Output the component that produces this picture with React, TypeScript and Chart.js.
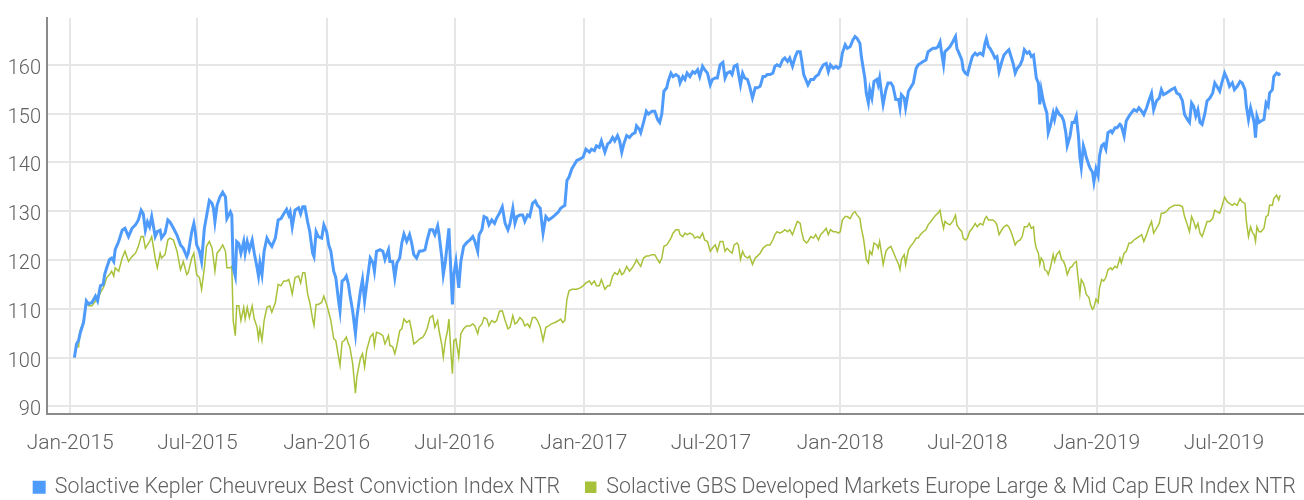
import React, { useEffect, useRef } from 'react';
import { Chart, registerables } from 'chart.js';

Chart.register(...registerables);

// Series names
const seriesNames = [
  'Solactive Kepler Cheuvreux Best Conviction Index NTR',
  'Solactive GBS Developed Markets Europe Large & Mid Cap EUR Index NTR',
];

// X axis: days since 2015-01-01; tick positions at month starts
const tickDays = [0, 181, 365, 547, 731, 912, 1096, 1277, 1461, 1642];
const tickLabels = ['Jan-2015', 'Jul-2015', 'Jan-2016', 'Jul-2016', 'Jan-2017', 'Jul-2017', 'Jan-2018', 'Jul-2018', 'Jan-2019', 'Jul-2019'];

// Observation dates (days since 2015-01-01), in four periods
const days2015 = [6, 9, 12, 14, 19, 23, 26, 31, 36, 39, 43, 47, 49, 52, 56, 59, 62, 64, 69, 74, 78, 83, 88, 93, 97, 101, 104, 107, 110, 113, 116, 121, 124, 128, 130, 135, 139, 142, 147, 152, 157, 161, 166, 168, 173, 176, 178, 180, 184, 187, 191, 194, 198, 202, 204, 206, 209, 213, 217, 221, 223, 228, 230, 232, 235, 237, 240, 243, 247, 249, 252, 255, 259, 262, 266, 268, 270, 273, 276, 280, 284, 287, 292, 296, 300, 304, 308, 311, 313, 316, 320, 325, 328, 331, 334, 338, 341, 345, 347, 350, 353, 358, 361, 365, 368, 371, 375, 378, 382, 384, 387, 390, 393, 396, 398, 402, 406, 408, 413, 416, 419, 422, 427];
const days2016 = [431, 433, 436, 441, 445, 448, 453, 455, 459, 462, 465, 469, 472, 475, 479, 483, 486, 489, 493, 497, 502, 505, 508, 512, 516, 519, 523, 525, 529, 531, 534, 537, 539, 542, 544, 546, 549, 553, 556, 560, 564, 569, 573, 576, 580, 582, 586, 589, 593, 596, 600, 604, 607, 611, 615, 619, 623, 626, 630, 633, 636, 640, 644, 647, 651, 654, 658, 662, 665, 669, 671, 673, 677, 681, 685, 690, 695, 698, 701, 704, 707, 710, 714, 717, 721, 726, 730, 734, 739, 742, 746, 749, 753, 756, 761, 765, 768, 772, 775, 779, 782, 785, 788, 792, 796, 800, 804, 806, 810, 812, 816, 820, 823, 828, 832, 836, 839, 842, 845, 849, 851, 855, 858, 862, 866];
const days2017 = [868, 872, 875, 878, 882, 886, 889, 893, 896, 900, 903, 907, 911, 914, 918, 921, 925, 929, 932, 935, 939, 942, 945, 949, 951, 954, 957, 960, 964, 967, 971, 975, 978, 982, 986, 989, 992, 996, 1000, 1003, 1006, 1010, 1014, 1017, 1021, 1024, 1028, 1032, 1035, 1039, 1041, 1044, 1048, 1050, 1054, 1058, 1061, 1065, 1068, 1072, 1076, 1079, 1082, 1086, 1090, 1093, 1096, 1099, 1103, 1106, 1110, 1114, 1117, 1120, 1124, 1126, 1129, 1131, 1133, 1136, 1138, 1141, 1144, 1148, 1150, 1152, 1155, 1157, 1161, 1164, 1168, 1171, 1175, 1179, 1181, 1183, 1187, 1189, 1193, 1196, 1200, 1204, 1207, 1210, 1214, 1218, 1221, 1225, 1228, 1232, 1235, 1238, 1240, 1243, 1245, 1248, 1252, 1256, 1260, 1262, 1265, 1269, 1271, 1274, 1277, 1280, 1284, 1288, 1291, 1295, 1299, 1302, 1304, 1307];
const days2018 = [1309, 1313, 1316, 1319, 1322, 1326, 1329, 1333, 1336, 1339, 1342, 1345, 1348, 1352, 1355, 1358, 1362, 1365, 1368, 1371, 1373, 1375, 1378, 1380, 1382, 1385, 1387, 1390, 1392, 1395, 1399, 1401, 1404, 1408, 1411, 1414, 1417, 1419, 1423, 1426, 1429, 1432, 1435, 1437, 1439, 1442, 1444, 1446, 1450, 1452, 1455, 1457, 1460, 1463, 1465, 1468, 1471, 1474, 1477, 1481, 1483, 1487, 1490, 1494, 1496, 1500, 1503, 1507, 1510, 1514, 1518, 1521, 1525, 1528, 1532, 1535, 1539, 1542, 1546, 1550, 1553, 1556, 1560, 1564, 1567, 1572, 1575, 1579, 1583, 1586, 1590, 1593, 1596, 1599, 1602, 1605, 1608, 1611, 1615, 1618, 1622, 1626, 1629, 1632, 1636, 1639, 1643, 1647, 1650, 1654, 1657, 1661, 1665, 1668, 1672, 1674, 1677, 1680, 1683, 1685, 1687, 1689, 1692, 1695, 1699, 1702, 1705, 1707, 1711, 1713, 1717, 1720, 1722];

// Solactive Kepler Cheuvreux Best Conviction Index NTR
const kepler2015 = [100, 102.8, 103.5, 104.9, 107.2, 111.6, 111, 111.3, 112.6, 111.6, 114.7, 115, 117, 118.4, 120.1, 120.4, 119.7, 122.1, 123.8, 126.1, 126.5, 124.8, 126.5, 127.2, 128.2, 130.2, 129.5, 126.1, 127.8, 126.8, 128.9, 124.8, 125.8, 126.1, 124.5, 125.5, 128.2, 127.8, 126.5, 125.1, 123.1, 122.4, 120.7, 121.4, 125.8, 127.5, 125.8, 123.1, 121.8, 119.7, 126.5, 128.9, 132.2, 131.6, 130.5, 127.8, 131.2, 132.9, 133.9, 132.9, 128.5, 129.9, 129.2, 118.4, 116.7, 123.8, 123.4, 121.4, 123.8, 121.4, 123.8, 122.1, 124.1, 121.4, 118.4, 116.7, 119.4, 117, 121.8, 124.5, 123.4, 122.8, 124.5, 128.2, 128.5, 129.5, 130.4, 129.2, 129.9, 126.8, 130.2, 130.7, 129.5, 130.9, 130.9, 127.8, 125.8, 121.4, 120.7, 125.8, 124.8, 124.5, 127.2, 125.8, 123.1, 121.8, 117.7, 116.4, 111.6, 109.6, 115.7, 116, 116.7, 115, 113, 109.6, 104.9, 108.2, 113.6, 116, 111.6, 115, 120.4];
const kepler2016 = [119.4, 117.7, 121.8, 122.1, 121.8, 120.1, 122.1, 119.7, 119.7, 116.4, 119.4, 120.4, 123.5, 125.3, 123.8, 125.2, 123.5, 121.1, 120.4, 121.8, 121.9, 122.1, 124.1, 126.2, 126.2, 125.2, 127, 125.2, 120.4, 117, 119.7, 123.8, 126.5, 117, 110.9, 117, 119.7, 114.3, 119.7, 122.8, 123.5, 124.1, 124.8, 123.8, 121.8, 125.2, 126.2, 128.9, 128.6, 127.2, 128.2, 127.5, 128.6, 129.6, 130.9, 127.5, 126.2, 127.5, 130.6, 127.5, 128.9, 129.2, 129.2, 127.9, 129.2, 128.9, 131.6, 132.1, 131.2, 130.6, 127.9, 125.5, 128.9, 128.2, 128.6, 129.2, 129.9, 130.6, 130.9, 131.2, 136.3, 137, 138.7, 139.4, 140.4, 140.7, 141.1, 142.7, 142.1, 142.7, 142.4, 143.4, 143.1, 144.4, 142.1, 143.8, 144.1, 145.1, 144.4, 145.5, 144.4, 142.1, 143.8, 145.5, 145.1, 145.8, 146.1, 147.5, 146.8, 146.1, 148.2, 150.5, 149.9, 150.5, 150.5, 148.8, 148.2, 149.9, 154.6, 155.3, 156.6, 158.3, 157.6, 158, 157.6];
const kepler2017 = [156.3, 157.6, 157, 158.3, 157.6, 158.6, 158.3, 159, 157.6, 159.7, 159, 158.3, 155.9, 157, 157.3, 157.3, 160, 160.5, 157.3, 158.3, 158.6, 158, 159.7, 160, 158.3, 155.9, 158.3, 157.3, 157, 155.6, 153.2, 155.3, 155.3, 155.6, 157.6, 157.6, 158, 158, 158.3, 159.7, 160, 159.7, 161, 161.4, 160.7, 161.4, 159.7, 161.7, 162.7, 162.7, 161, 158, 156.6, 155.9, 157, 157, 157.6, 158, 159, 160, 160.3, 158.6, 160, 159.3, 159.7, 159.3, 159.7, 162.4, 164.1, 163.4, 163.7, 165.1, 165.8, 165.4, 164.4, 161.7, 159, 157.3, 154.2, 152.2, 154.9, 153.2, 156.6, 157, 155.9, 157.3, 153.9, 151.9, 154.9, 156.3, 156.3, 155.6, 152.9, 152.9, 151.2, 153.9, 153.2, 151.2, 154.6, 155.3, 156.3, 159.3, 160, 160.3, 160.7, 161, 162.7, 163.1, 163.4, 163.4, 163.7, 164.7, 162.7, 160, 162.7, 163.1, 163.7, 164.7, 165.8, 163.4, 162.4, 161, 159, 158.3, 158, 159.7, 161.7, 162.4, 162, 162.4, 162, 164.4, 165.4, 163.7];
const kepler2018 = [163.4, 162.4, 161.4, 161.7, 158.6, 160.7, 162, 162.7, 163.1, 161.7, 160.3, 158.3, 159.3, 160, 161, 163.1, 162.4, 162.7, 161.7, 162, 159.7, 157.3, 156.3, 151.9, 154.9, 152.6, 151.5, 150.1, 146.1, 147.5, 150.1, 148.8, 150.8, 149.8, 149.5, 148.5, 146.1, 143.4, 145.4, 148.2, 148.2, 149.5, 145.4, 141.1, 139, 143.4, 142.4, 141.1, 139.4, 138.7, 138, 136, 138.7, 137.3, 141.4, 143.4, 143.8, 142.7, 146.1, 146.5, 146.1, 147.1, 147.1, 147.8, 147.5, 145.4, 148.5, 149.5, 150.1, 150.8, 150.5, 151.2, 150.5, 149.8, 151.2, 152.6, 154.2, 150.8, 152.6, 153.2, 154.9, 153.9, 154.2, 154.6, 154.9, 155.3, 154.2, 153.9, 152.6, 149.8, 148.8, 148.2, 152.2, 151.5, 149.5, 150.8, 148.2, 147.8, 150.1, 152.6, 153.2, 154.2, 156.3, 155.6, 154.6, 156.3, 158.3, 157, 155.6, 156.3, 154.9, 155.6, 156.6, 156.3, 154.9, 151.5, 148.8, 151.2, 149.5, 148.2, 145.1, 149.5, 148.2, 148.5, 148.8, 152.2, 151.5, 154.2, 154.9, 157.6, 158.3, 158, 158.3];

// Solactive GBS Developed Markets Europe Large & Mid Cap EUR Index NTR
const gbs2015 = [100, 102.2, 102.2, 105.5, 107.6, 111.3, 110.6, 110.6, 111.6, 112, 113.3, 114.3, 115, 116.4, 117, 117.7, 116.7, 118.4, 117.7, 120.4, 121.8, 119.7, 120.7, 121.4, 122.8, 124.8, 124.8, 122.4, 123.1, 123.8, 124.8, 120.4, 118.4, 121.4, 120.4, 121.1, 124.1, 124.5, 124.1, 121.8, 118, 119.7, 117, 117.4, 120.4, 121.4, 119.1, 117, 116.4, 114, 118.4, 122.8, 123.8, 122.4, 120.1, 117.7, 121.4, 122.1, 123.1, 121.8, 118.4, 118.4, 118.7, 107.6, 104.5, 110.6, 110.6, 107.6, 110.3, 107.9, 110.3, 108.2, 110.6, 107.9, 106.2, 103.9, 105.9, 103.5, 107.6, 110.3, 110.6, 109.3, 111.3, 115, 114.7, 115.7, 115.7, 116, 115, 113, 116.4, 116.7, 115.3, 117.4, 117.4, 113, 111.3, 107.9, 106.6, 110.9, 110.9, 111.3, 112.6, 110.9, 109.3, 107.6, 103.9, 103.5, 100.1, 98.4, 103.2, 103.5, 104.2, 102.8, 102.2, 98.8, 92.7, 96.1, 99.8, 100.8, 98.1, 101.5, 104.2];
const gbs2016 = [104.9, 102.5, 105.2, 104.9, 104.5, 102.8, 104.5, 102.5, 102.2, 100.8, 102.5, 105.5, 105.9, 107.9, 107.2, 107.6, 105.5, 102.8, 103.2, 103.8, 104.2, 104.9, 105.9, 108.2, 108.6, 106.2, 107.6, 105.5, 102.5, 100.1, 103.5, 105.5, 107.9, 100.8, 96.7, 103.5, 103.8, 100.1, 104.9, 105.9, 106.5, 106.5, 106.9, 106.5, 104.9, 106.2, 106.9, 108.2, 107.9, 106.5, 107.6, 107.2, 107.6, 109.5, 109.6, 107.6, 105.9, 106.2, 108.6, 106.9, 107.2, 108.2, 107.6, 106.5, 106.9, 106.2, 108.2, 108.2, 107.6, 106.2, 104.9, 103.5, 106.2, 106.5, 106.9, 107.2, 107.6, 107.9, 107.2, 107.6, 112, 113.7, 114, 114, 114, 114.3, 114.7, 115.3, 115.7, 115, 115.7, 114.7, 114.7, 116, 114, 114.7, 114.7, 116.7, 117.4, 117, 118, 117, 117.4, 118.7, 117.7, 118.4, 119.4, 120.1, 119.1, 118.7, 120.4, 120.8, 120.8, 121.1, 121.1, 120.1, 119.4, 120.4, 122.8, 123.1, 123.5, 124.5, 125.5, 126.2, 126.2];
const gbs2017 = [125.2, 124.8, 125.5, 125.2, 125.5, 125.2, 124.5, 124.8, 124.5, 125.5, 124.1, 123.8, 121.8, 122.4, 123.1, 121.8, 123.8, 123.8, 121.8, 122.4, 121.8, 121.4, 123.1, 123.5, 123.1, 120.1, 121.8, 120.8, 120.4, 120.8, 119.1, 120.4, 120.8, 121.4, 122.4, 122.8, 123.1, 123.1, 124.1, 125.2, 125.8, 125.5, 125.8, 126.2, 125.8, 126.2, 125.2, 126.8, 127.9, 127.5, 125.8, 124.1, 123.5, 123.8, 124.8, 124.5, 125.2, 124.1, 125.2, 125.8, 126.5, 125.2, 126.2, 125.8, 125.8, 125.5, 125.8, 128.2, 128.9, 128.9, 128.5, 129.6, 129.9, 129.2, 128.5, 126.5, 124.5, 122.4, 120.1, 119.4, 121.8, 121.1, 123.5, 123.1, 122.4, 123.8, 121.1, 119.1, 121.8, 122.4, 122.8, 121.8, 120.4, 119.1, 118, 120.1, 121.1, 119.1, 122.1, 122.8, 123.5, 124.5, 124.5, 125.2, 125.8, 126.2, 127.2, 127.9, 128.5, 129.2, 129.6, 130.2, 128.5, 126.5, 127.9, 127.5, 127.2, 127.9, 129.2, 127.2, 126.5, 125.8, 124.5, 124.1, 124.5, 125.8, 126.5, 127.5, 126.8, 127.5, 127.2, 128.5, 128.9, 128.2];
const gbs2018 = [128.2, 128.2, 127.9, 127.2, 125.2, 126.2, 126.8, 127.2, 126.8, 125.8, 124.5, 123.1, 123.8, 124.1, 124.8, 126.8, 126.8, 127.5, 126.5, 126.8, 123.8, 122.4, 121.4, 119.1, 120.4, 119.7, 118, 117.7, 117, 118.4, 121.1, 119.7, 121.1, 121.8, 120.1, 119.7, 118.4, 117, 118.4, 118.7, 119.4, 119.7, 115.7, 113, 116, 115.3, 114.3, 113, 112.3, 110.9, 109.9, 110.3, 112, 111.3, 114.3, 116, 115.7, 116.4, 118, 118.4, 118, 118.7, 118.4, 120.4, 119.4, 121.4, 121.8, 123.5, 123.5, 124.1, 124.5, 124.8, 125.2, 123.8, 125.2, 126.5, 127.9, 125.5, 126.5, 127.5, 129.6, 129.6, 129.9, 130.6, 130.9, 131.2, 131.2, 131.2, 130.9, 128.9, 127.2, 125.8, 128.9, 127.9, 126.5, 127.5, 125.5, 124.8, 126.5, 127.9, 127.9, 128.5, 130.2, 129.9, 129.6, 130.9, 132.9, 131.9, 131.6, 131.2, 131.6, 131.2, 132.6, 131.9, 131.6, 127.9, 124.8, 126.8, 125.5, 125.2, 123.8, 126.8, 125.8, 125.8, 126.5, 128.9, 129.2, 131.2, 131.2, 132.6, 133.3, 132.3, 133.3];

const days = [...days2015, ...days2016, ...days2017, ...days2018];
const keplerValues = [...kepler2015, ...kepler2016, ...kepler2017, ...kepler2018];
const gbsValues = [...gbs2015, ...gbs2016, ...gbs2017, ...gbs2018];

const FONT = "Roboto, 'DejaVu Sans', sans-serif";
const TEXT = '#606060';

const legendShift = {
  id: 'legendShift',
  afterLayout(chart: any) {
    const lg = chart.legend;
    if (lg) {
      lg.left += 13;
      lg.right += 13;
    }
  },
};

export default function App() {
  const ref = useRef<HTMLCanvasElement>(null);

  useEffect(() => {
    document.body.style.margin = '0';
    const canvas = ref.current;
    if (!canvas) return;
    const chart = new Chart(canvas, {
      type: 'line',
      data: {
        datasets: [
          {
            label: seriesNames[0],
            data: days.map((d, i) => ({ x: d, y: keplerValues[i] })),
            borderColor: '#4f9bfb',
            backgroundColor: '#4f9bfb',
            borderWidth: 3,
            pointRadius: 0,
            tension: 0,
          },
          {
            label: seriesNames[1],
            data: days.map((d, i) => ({ x: d, y: gbsValues[i] })),
            borderColor: '#a7c23a',
            backgroundColor: '#a7c23a',
            borderWidth: 1.5,
            pointRadius: 0,
            tension: 0,
          },
        ],
      },
      plugins: [legendShift],
      options: {
        responsive: false,
        animation: false,
        layout: { padding: { top: 14, right: 0, bottom: -8, left: 0 } },
        plugins: {
          tooltip: { enabled: false },
          legend: {
            position: 'bottom',
            labels: {
              boxWidth: 10,
              boxHeight: 10,
              padding: 10,
              color: TEXT,
              font: { family: FONT, size: 21.3, weight: '300' },
              generateLabels: (c: any) => {
                const items = Chart.defaults.plugins.legend.labels.generateLabels(c);
                return items.map((it: any, i: number) =>
                  i === 0 ? { ...it, text: it.text + '   ' } : it
                );
              },
            },
          },
        },
        scales: {
          x: {
            type: 'linear',
            min: -33,
            max: 1756,
            afterBuildTicks: (scale: any) => {
              scale.ticks = tickDays.map((v) => ({ value: v }));
            },
            afterFit: (scale: any) => {
              scale.height = 53;
            },
            grid: { color: '#e6e6e6', lineWidth: 2, drawTicks: false },
            border: { display: true, color: '#8a8a8a', width: 2 },
            ticks: {
              autoSkip: false,
              maxRotation: 0,
              padding: 17,
              color: TEXT,
              font: { family: FONT, size: 21, weight: '300' },
              callback: (value: any) => {
                const idx = tickDays.indexOf(Number(value));
                return idx >= 0 ? tickLabels[idx] : '';
              },
            },
          },
          y: {
            min: 88.5,
            max: 169.6,
            afterFit: (scale: any) => {
              scale.width = 47;
            },
            grid: { color: '#e6e6e6', lineWidth: 2, drawTicks: false },
            border: { display: true, color: '#8a8a8a', width: 2 },
            ticks: {
              stepSize: 10,
              includeBounds: false,
              padding: 6,
              labelOffset: 4,
              color: TEXT,
              font: { family: FONT, size: 20, weight: '300' },
            },
          },
        },
      },
    });
    return () => chart.destroy();
  }, []);

  return (
    <div style={{ width: 1304, height: 500 }}>
      <canvas ref={ref} width={1304} height={500} style={{ display: 'block' }} />
    </div>
  );
}
